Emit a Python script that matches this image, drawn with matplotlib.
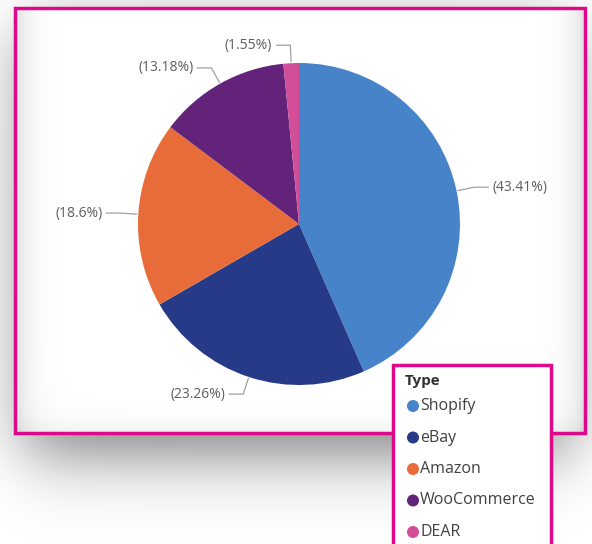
import numpy as np
import matplotlib
matplotlib.use("Agg")
import matplotlib.pyplot as plt
from matplotlib.patches import Rectangle

plt.rcParams["font.family"] = ["Open Sans", "DejaVu Sans"]

# données
types = ["Shopify", "eBay", "Amazon", "WooCommerce", "DEAR"]
shares = [43.41, 23.26, 18.6, 13.18, 1.55]
labels = ["(43.41%)", "(23.26%)", "(18.6%)", "(13.18%)", "(1.55%)"]
colors = ["#4683C9", "#263A87", "#E86C39", "#64237A", "#D24E98"]

W, H = 592, 544
MAGENTA = "#DC0A8A"

fig = plt.figure(figsize=(W / 100, H / 100), dpi=100, facecolor="white")

# fond + ombre douce (coordonnées en pixels)
bg = fig.add_axes([0, 0, 1, 1], zorder=0)
bg.set_xlim(0, W)
bg.set_ylim(H, 0)
bg.axis("off")

xx, yy = np.meshgrid(np.arange(W) + 0.5, np.arange(H) + 0.5)


def soft(v, a, b, w):
    return 0.5 * (np.tanh((v - a) / w) - np.tanh((v - b) / w))


shadow = 0.5 * soft(xx, 25, 570, 40) * soft(yy, 30, 455, 40)
img = np.zeros((H, W, 4))
img[..., 3] = shadow
bg.imshow(img, extent=(0, W, H, 0), interpolation="bilinear", zorder=0)

bg.add_patch(Rectangle((15, 8), 570, 425, facecolor="white",
                       edgecolor="none", zorder=1))
# ombre intérieure légère sur les bords du cadre
inner = (0.13 * np.exp(-(xx - 15) / 14) + 0.13 * np.exp(-(585 - xx) / 14)
         + 0.06 * np.exp(-(433 - yy) / 12))
inner = np.where((xx > 15) & (xx < 585) & (yy > 8) & (yy < 433), inner, 0)
img2 = np.zeros((H, W, 4))
img2[..., 3] = np.clip(inner, 0, 1)
bg.imshow(img2, extent=(0, W, H, 0), interpolation="bilinear", zorder=2)
bg.add_patch(Rectangle((15, 8), 570, 425, facecolor="none",
                       edgecolor=MAGENTA, linewidth=2.5, zorder=3))
bg.set_xlim(0, W)
bg.set_ylim(H, 0)

# camembert
cx, cy, r = 299, 224, 161
ax = fig.add_axes([(cx - r) / W, (H - cy - r) / H, 2 * r / W, 2 * r / H], zorder=1)
wedges, _ = ax.pie(shares, colors=colors, startangle=90, counterclock=False,
                   radius=1, wedgeprops=dict(linewidth=0))
ax.set_xlim(-1, 1)
ax.set_ylim(-1, 1)
ax.set_aspect("equal")
ax.axis("off")

d, hor, gap = 18 / r, 14 / r, 4 / r
for w, lab in zip(wedges, labels):
    ang = np.deg2rad((w.theta1 + w.theta2) / 2)
    ux, uy = np.cos(ang), np.sin(ang)
    side = 1 if ux >= 0 else -1
    p0 = (ux * 1.01, uy * 1.01)
    p1 = (ux * (1 + d), uy * (1 + d))
    p2 = (p1[0] + side * hor, p1[1])
    ax.plot([p0[0], p1[0], p2[0]], [p0[1], p1[1], p2[1]], color="#a0a0a0",
            linewidth=0.9, clip_on=False)
    ax.text(p2[0] + side * gap, p2[1], lab, ha="left" if side > 0 else "right",
            va="center", fontsize=10, color="#605E5C", clip_on=False)

# légende
lg = fig.add_axes([0, 0, 1, 1], zorder=3)
lg.set_xlim(0, W)
lg.set_ylim(H, 0)
lg.axis("off")
lg.add_patch(Rectangle((393, 365), 158, 185, facecolor="white",
                       edgecolor=MAGENTA, linewidth=2.5, clip_on=False))
lg.text(405, 381, "Type", fontsize=11, fontweight="bold", color="#333333",
        va="center", ha="left")
for k, (t, c) in enumerate(zip(types, colors)):
    y = 406 + k * 31.5
    lg.scatter([413], [y], s=75, color=c, edgecolors="none")
    lg.text(420, y, t, fontsize=11.5, color="#404040", va="center", ha="left")

fig.savefig("out.png", dpi=100, facecolor=fig.get_facecolor())
